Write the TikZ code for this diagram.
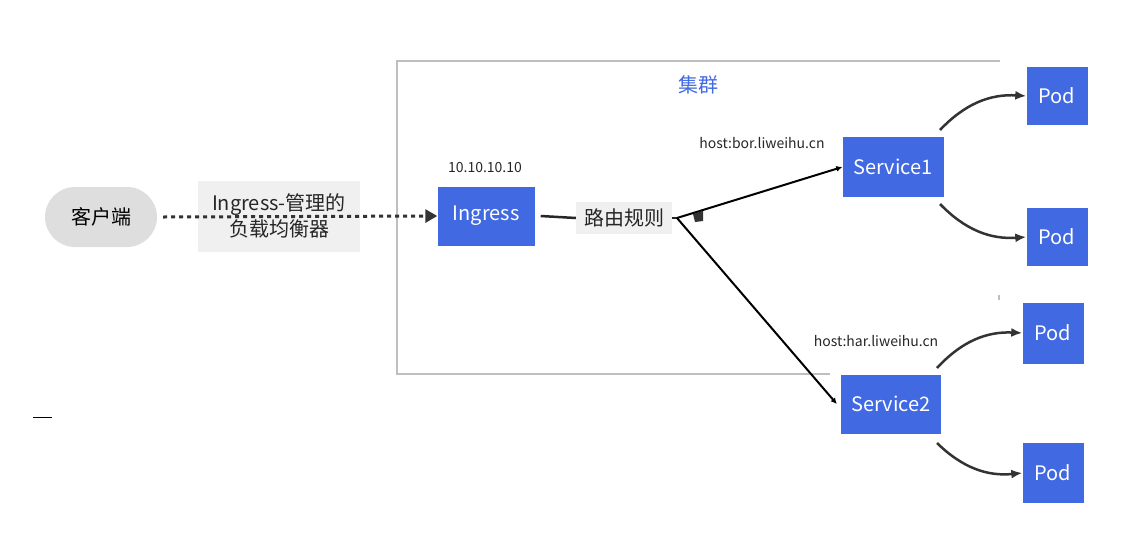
\documentclass[tikz,border=0pt]{standalone}
\usepackage{fontspec}
\setmainfont{Noto Sans CJK SC}
\usetikzlibrary{arrows.meta}
\definecolor{kblue}{HTML}{4169E1}
\definecolor{cgray}{HTML}{BFBFBF}
\begin{document}
\begin{tikzpicture}[x=1pt,y=-1pt,
  blue/.style={draw=none,fill=kblue,text=white,font=\fontsize{20}{22}\selectfont,inner sep=0},
  lab/.style={fill=black!6,font=\fontsize{20}{26}\selectfont,text=black!85,inner sep=2pt},
  small/.style={font=\fontsize{14}{16}\selectfont,text=black!85},
  conn/.style={black!80,line width=2.5pt,-{Latex[length=11pt,width=9pt]},bend left=25},
  ]
\useasboundingbox (0,0) rectangle (1139,549);
% cluster
\draw[cgray,line width=2.5pt] (1000,61) -- (397,61) -- (397,374) -- (830,374);
\draw[cgray,line width=2.5pt] (999,295) -- (999,300);
\node[text=kblue,font=\fontsize{20}{22}\selectfont] (cl) at (698,85) {集群};
% nodes
\node[fill=black!13,rounded corners=30pt,minimum width=112pt,minimum height=60pt,font=\fontsize{20}{22}\selectfont] (client) at (101,217) {客户端};
\node[blue,minimum width=97pt,minimum height=59pt] (ing) at (486,216) {Ingress};
\node[small] (ip) at (485,168) {10.10.10.10};
\node[lab,fill=black!6,minimum width=162pt,minimum height=71pt] (lb) at (279,216) {};
\node[lab,align=center,fill=none] at (279,216) {Ingress-管理的\\负载均衡器};
\node[lab,minimum width=96pt,minimum height=32pt,inner sep=0] (rr) at (624,218) {路由规则};
\node[blue,minimum width=101pt,minimum height=60pt] (s1) at (893,167) {Service1};
\node[blue,minimum width=100pt,minimum height=59pt] (s2) at (891,404) {Service2};
\node[blue,minimum width=61pt,minimum height=58pt] (p1) at (1057,96) {Pod};
\node[blue,minimum width=61pt,minimum height=58pt] (p2) at (1057,237) {Pod};
\node[blue,minimum width=61pt,minimum height=61pt] (p3) at (1053,333) {Pod};
\node[blue,minimum width=61pt,minimum height=60pt] (p4) at (1053,473) {Pod};
\node[small] (h1) at (762,143) {host:bor.liweihu.cn};
\node[small] (h2) at (876,341) {host:har.liweihu.cn};
\coordinate (fork) at (677,218);
\coordinate (tick1) at (33,417);
\coordinate (tick2) at (52,417);
% connectors
\draw[black!80,line width=3pt,dash pattern=on 4pt off 4pt,-{Triangle[length=12pt,width=13pt]}] (client.east)+(6,0) -- (ing.west);
\draw[black!85,line width=2.5pt] (ing.east)+(6,0) -- (rr.west);
\draw[black!85,line width=2.5pt] (rr.east) -- (fork);
\fill[black!80] (693,214) -- (703,211) -- (703,221) -- (695,222) -- cycle;
\draw[black,line width=2pt,-{Latex[length=6pt,width=6pt]}] (fork) -- (s1.west);
\draw[black,line width=2pt,-{Latex[length=6pt,width=6pt]}] (fork) -- ([xshift=-4pt]s2.west);
\draw[conn] (940,130) to (p1.west);
\draw[conn,bend right=25] (940,204) to (p2.west);
\draw[conn] (937,368) to (p3.west);
\draw[conn,bend right=25] (937,443) to (p4.west);
\draw[black,line width=1pt] (tick1) -- (tick2);
\end{tikzpicture}
\end{document}
